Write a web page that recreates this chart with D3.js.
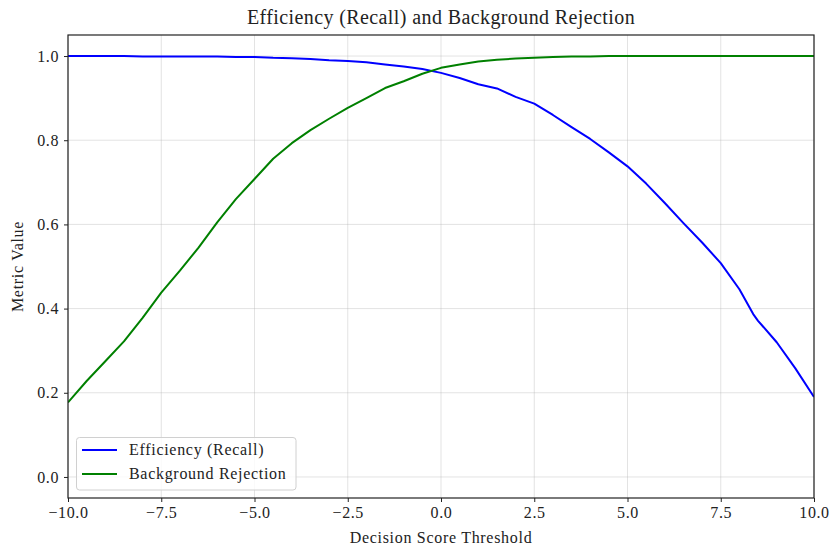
<!DOCTYPE html>
<html>
<head>
<meta charset="utf-8">
<script src="https://cdn.jsdelivr.net/npm/d3@7"></script>
<style>
  body { margin: 0; background: #fff; }
  svg text { font-family: "Liberation Serif", "Times New Roman", serif; fill: #222; }
</style>
</head>
<body>
<svg id="chart" width="829" height="546"></svg>
<script>
const thresholds = [-10,-9.5,-9,-8.5,-8,-7.5,-7,-6.5,-6,-5.5,-5,-4.5,-4,-3.5,-3,-2.5,-2,-1.5,-1,-0.5,0,0.5,1,1.5,2,2.5,3,3.5,4,4.5,5,5.5,6,6.5,7,7.5,8,8.37,8.5,9,9.5,10];
const efficiency = [1.000,1.000,1.000,1.000,0.999,0.999,0.999,0.999,0.999,0.998,0.998,0.996,0.995,0.993,0.990,0.988,0.985,0.980,0.975,0.969,0.960,0.948,0.933,0.923,0.903,0.887,0.860,0.831,0.803,0.771,0.738,0.697,0.651,0.603,0.557,0.508,0.446,0.387,0.371,0.320,0.258,0.190];
const rejection = [0.177,0.228,0.275,0.322,0.378,0.438,0.490,0.545,0.605,0.660,0.708,0.756,0.793,0.824,0.851,0.877,0.900,0.924,0.940,0.958,0.972,0.980,0.987,0.991,0.994,0.996,0.998,0.999,0.999,1.000,1.000,1.000,1.000,1.000,1.000,1.000,1.000,1.000,1.000,1.000,1.000,1.000];
const xTicks = [-10,-7.5,-5,-2.5,0,2.5,5,7.5,10];
const yTicks = [0.0,0.2,0.4,0.6,0.8,1.0];
const seriesNames = ["Efficiency (Recall)", "Background Rejection"];
const seriesColors = ["#0000ff", "#008000"];

const svg = d3.select("#chart");
const pL = 68, pR = 814, pT = 35, pB = 498;
const x = d3.scaleLinear().domain([-10, 10]).range([pL, pR]);
const y = d3.scaleLinear().domain([-0.05, 1.05]).range([pB, pT]);

// grid
const grid = svg.append("g");
grid.selectAll("line.vx").data(xTicks).enter().append("line")
  .attr("x1", d => x(d)).attr("x2", d => x(d)).attr("y1", pT).attr("y2", pB)
  .attr("stroke", "#b0b0b0").attr("stroke-opacity", 0.35).attr("stroke-width", 1);
grid.selectAll("line.hy").data(yTicks).enter().append("line")
  .attr("x1", pL).attr("x2", pR).attr("y1", d => y(d)).attr("y2", d => y(d))
  .attr("stroke", "#b0b0b0").attr("stroke-opacity", 0.35).attr("stroke-width", 1);

// lines
const series = [efficiency, rejection];
const line = d3.line().x((d, i) => x(thresholds[i])).y(d => y(d));
svg.append("clipPath").attr("id", "clip").append("rect")
  .attr("x", pL).attr("y", pT).attr("width", pR - pL).attr("height", pB - pT);
series.forEach((s, k) => {
  svg.append("path").datum(s).attr("d", line)
    .attr("fill", "none").attr("stroke", seriesColors[k]).attr("stroke-width", 2)
    .attr("stroke-linejoin", "round").attr("clip-path", "url(#clip)");
});

// frame
svg.append("rect").attr("x", pL).attr("y", pT).attr("width", pR - pL).attr("height", pB - pT)
  .attr("fill", "none").attr("stroke", "#222").attr("stroke-width", 1.2);

// axes
const xAxis = d3.axisBottom(x).tickValues(xTicks).tickSize(4).tickPadding(5)
  .tickFormat(d => (d < 0 ? "\u2212" : "") + Math.abs(d).toFixed(1));
const gx = svg.append("g").attr("transform", `translate(0,${pB})`).call(xAxis);
gx.select(".domain").remove();
gx.selectAll(".tick line").attr("stroke", "#222");
gx.selectAll(".tick text").attr("font-size", 16).attr("fill", "#222")
  .attr("letter-spacing", 0.6)
  .style("font-family", '"Liberation Serif", serif');

const yAxis = d3.axisLeft(y).tickValues(yTicks).tickSize(4).tickPadding(5)
  .tickFormat(d => d.toFixed(1));
const gy = svg.append("g").attr("transform", `translate(${pL},0)`).call(yAxis);
gy.select(".domain").remove();
gy.selectAll(".tick line").attr("stroke", "#222");
gy.selectAll(".tick text").attr("font-size", 16).attr("fill", "#222")
  .attr("letter-spacing", 0.6)
  .style("font-family", '"Liberation Serif", serif');

// title and labels
svg.append("text").attr("x", (pL + pR) / 2).attr("y", 24).attr("text-anchor", "middle")
  .attr("font-size", 20).attr("letter-spacing", 0.4).text("Efficiency (Recall) and Background Rejection");
svg.append("text").attr("x", (pL + pR) / 2).attr("y", 543).attr("text-anchor", "middle")
  .attr("font-size", 16).attr("letter-spacing", 0.7).text("Decision Score Threshold");
svg.append("text").attr("transform", `translate(23,${(pT + pB) / 2}) rotate(-90)`)
  .attr("text-anchor", "middle").attr("font-size", 16).attr("letter-spacing", 0.7).text("Metric Value");

// legend
const lg = svg.append("g");
lg.append("rect").attr("x", 76.5).attr("y", 437.5).attr("width", 219.5).attr("height", 52.5)
  .attr("rx", 3).attr("fill", "#fff").attr("fill-opacity", 0.8).attr("stroke", "#d0d0d0");
seriesNames.forEach((n, k) => {
  const yy = 450 + k * 24;
  lg.append("line").attr("x1", 82).attr("x2", 117).attr("y1", yy).attr("y2", yy)
    .attr("stroke", seriesColors[k]).attr("stroke-width", 2);
  lg.append("text").attr("x", 129).attr("y", yy + 5).attr("font-size", 16)
    .attr("letter-spacing", 0.7).text(n);
});
</script>
</body>
</html>
